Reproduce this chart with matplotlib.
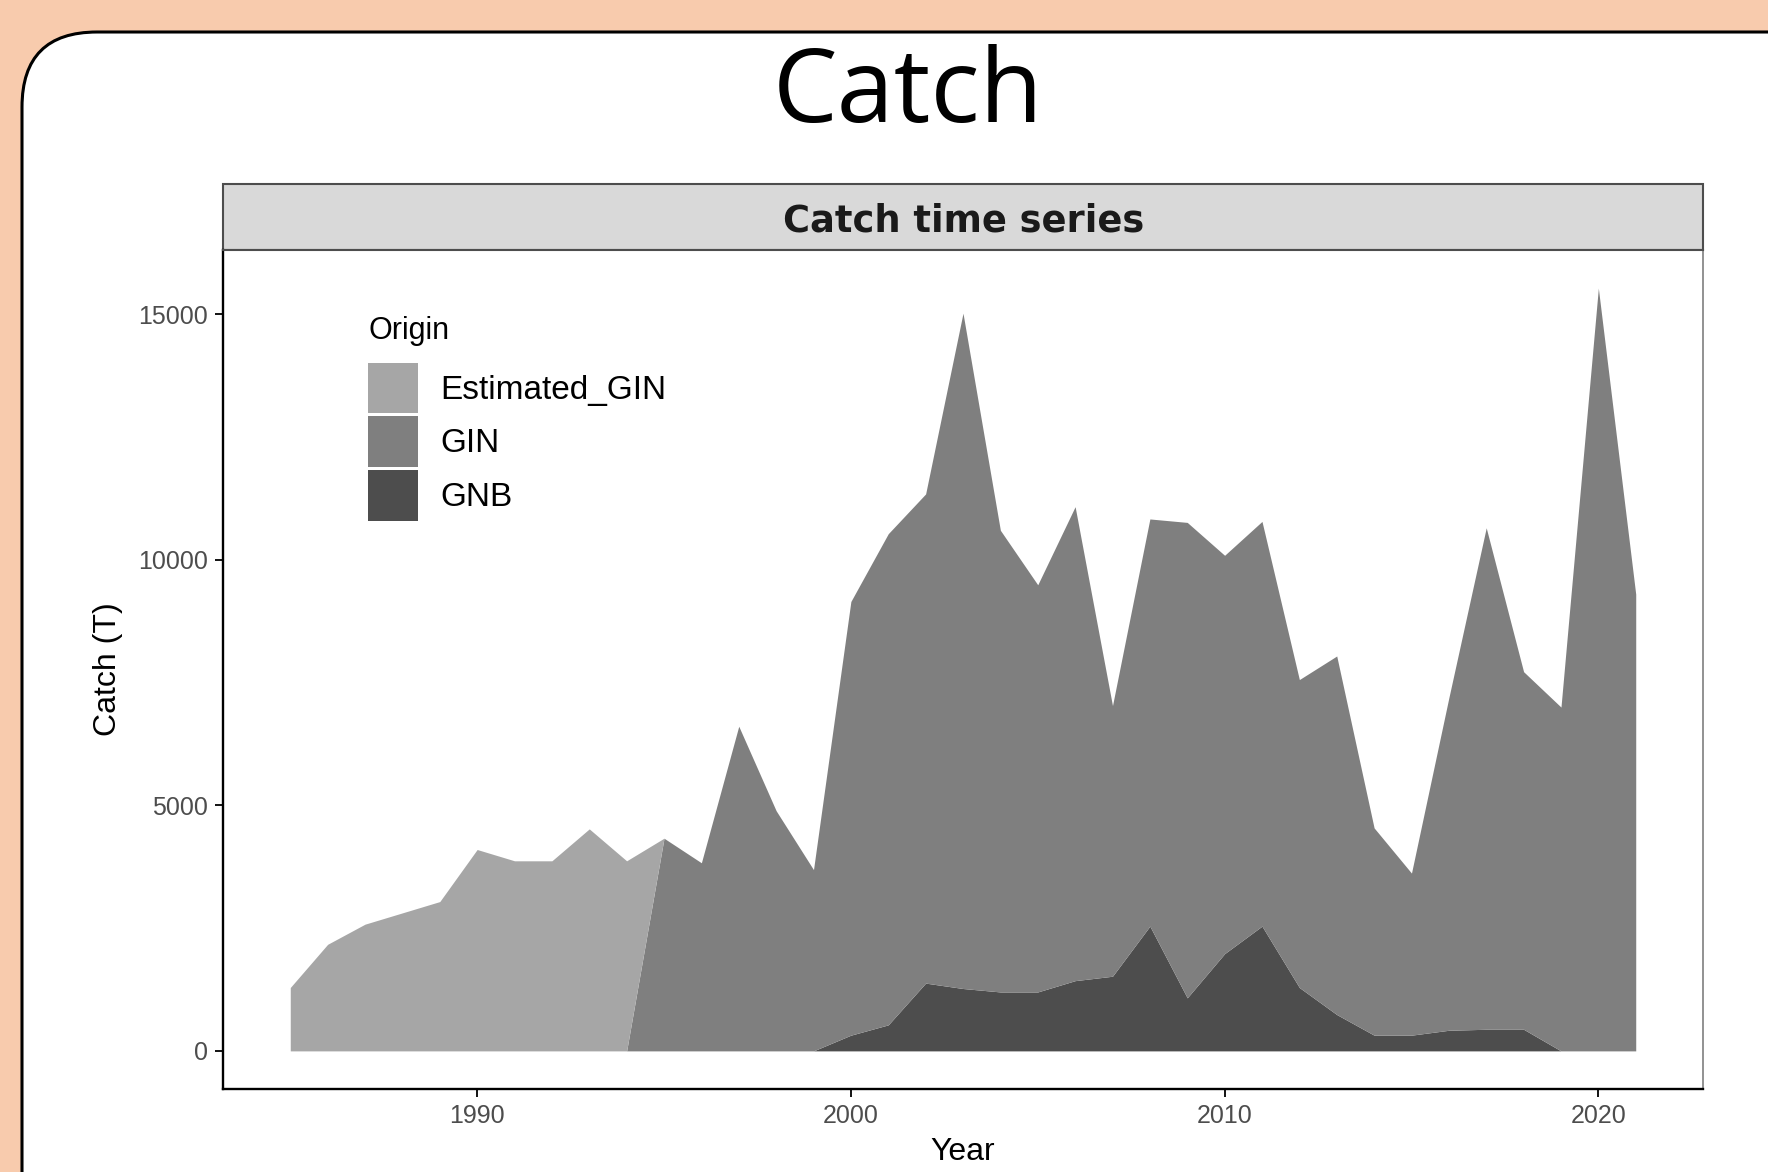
import matplotlib.pyplot as plt
import pandas as pd
from matplotlib.patches import FancyBboxPatch, Rectangle, Patch

# catch by origin (tonnes)
est_gin_years = [1985, 1986, 1987, 1988, 1989, 1990, 1991, 1992, 1993, 1994]
est_gin = [1290, 2170, 2580, 2810, 3040, 4100, 3870, 3870, 4520, 3870]

gin_years = list(range(1995, 2022))
gin = [4330, 3830, 6610, 4890, 3690, 8830, 10000, 9960, 13750, 9400,
       8290, 9650, 5510, 8290, 9680, 8110, 8240, 6270, 7300, 4220,
       3300, 6770, 10210, 7280, 7000, 15530, 9300]

gnb_years = list(range(2000, 2019))
gnb = [320, 530, 1380, 1270, 1200, 1200, 1430, 1520, 2540, 1080,
       1980, 2540, 1290, 740, 320, 320, 420, 440, 440]

origins = ['Estimated_GIN', 'GIN', 'GNB']
colors = {'Estimated_GIN': '#A6A6A6', 'GIN': '#7F7F7F', 'GNB': '#4D4D4D'}
x_ticks = [1990, 2000, 2010, 2020]
y_ticks = [0, 5000, 10000, 15000]

all_years = list(range(1985, 2022))
df = pd.DataFrame({
    'GNB': pd.Series(gnb, index=gnb_years),
    'GIN': pd.Series(gin, index=gin_years),
    'Estimated_GIN': pd.Series(est_gin, index=est_gin_years),
}).reindex(all_years).fillna(0)

W, H = 1768, 1172
fig = plt.figure(figsize=(W / 100, H / 100), dpi=100)
fig.patch.set_facecolor('#F8CBAD')

# slide background: rounded white card, title, facet strip
bg = fig.add_axes([0, 0, 1, 1])
bg.set_xlim(0, W)
bg.set_ylim(H, 0)
bg.axis('off')
bg.add_patch(FancyBboxPatch((22, 32), 1850, 1300,
                            boxstyle='round,pad=0,rounding_size=75',
                            fc='white', ec='black', lw=2.2))
bg.text(908, 122, 'Catch', fontsize=74, family='Open Sans',
        ha='center', va='baseline')
bg.add_patch(Rectangle((223, 184), 1480, 66, fc='#D9D9D9', ec='#4D4D4D', lw=1.5))
bg.text(964, 231, 'Catch time series', fontsize=26.5, fontweight='bold',
        family='DejaVu Sans', color='#1A1A1A', ha='center', va='baseline')

ax = fig.add_axes([223 / W, 1 - 1089 / H, 1480 / W, 839 / H])

# stacked areas: GNB at the bottom, then GIN, Estimated_GIN on top
base = pd.Series(0.0, index=df.index)
for name in ['GNB', 'GIN', 'Estimated_GIN']:
    top = base + df[name]
    ax.fill_between(df.index, base, top, color=colors[name], lw=0, label=name)
    base = top

ax.set_xlim(1983.2, 2022.8)
ax.set_ylim(-776, 16306)
ax.set_xticks(x_ticks)
ax.set_yticks(y_ticks)
ax.tick_params(length=5.8, width=1.3, pad=5, labelsize=18, labelcolor='#4D4D4D')
for lab in ax.get_xticklabels() + ax.get_yticklabels():
    lab.set_family('Liberation Sans')

for side in ['left', 'bottom']:
    ax.spines[side].set_color('black')
    ax.spines[side].set_linewidth(1.7)
ax.spines['top'].set_color('#4D4D4D')
ax.spines['top'].set_linewidth(1.5)
ax.spines['right'].set_color('#7F7F7F')
ax.spines['right'].set_linewidth(1.2)

ax.set_xlabel('Year', fontsize=23, family='Liberation Sans')
ax.set_ylabel('Catch (T)', fontsize=23, family='Liberation Sans')
ax.xaxis.set_label_coords(0.5, -0.057)
ax.yaxis.set_label_coords(-0.0676, 0.5)

handles = [Patch(facecolor=colors[o], edgecolor='none', label=o) for o in origins]
leg = ax.legend(handles=handles, title='Origin', loc='upper left',
                bbox_to_anchor=(368 / W, 1 - 316 / H), bbox_transform=fig.transFigure,
                frameon=False, borderpad=0, borderaxespad=0,
                prop={'family': 'Liberation Sans', 'size': 24},
                title_fontproperties={'family': 'Liberation Sans', 'size': 22},
                handlelength=1.5, handleheight=1.96, handletextpad=0.66,
                labelspacing=0.09, alignment='left')
leg._legend_box.sep = 12  # gap between title and keys

fig.savefig('out.png', dpi=100)
